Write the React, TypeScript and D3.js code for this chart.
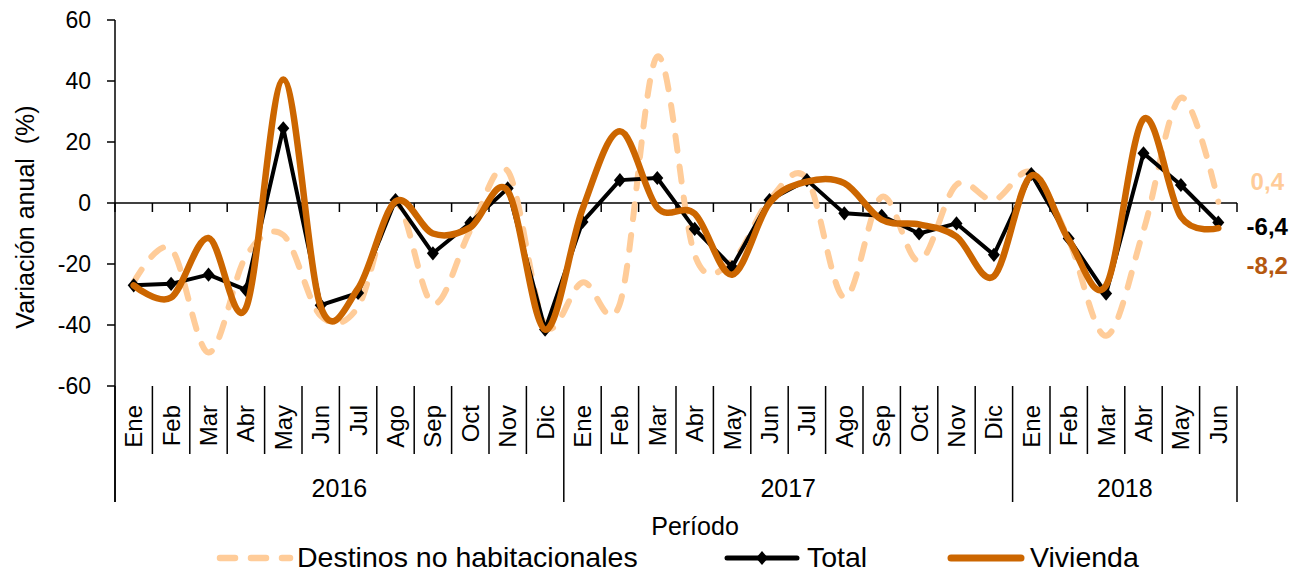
import React from "react";
import * as d3 from "d3";

const months = [
  "Ene","Feb","Mar","Abr","May","Jun","Jul","Ago","Sep","Oct","Nov","Dic",
  "Ene","Feb","Mar","Abr","May","Jun","Jul","Ago","Sep","Oct","Nov","Dic",
  "Ene","Feb","Mar","Abr","May","Jun",
];
const years = ["2016", "2017", "2018"];
const yearCounts = [12, 12, 6];
const yTicks = [-60, -40, -20, 0, 20, 40, 60];

const destinos = [
  -26, -15, -49, -17.5, -10.5, -37, -34, 0, -33, -9, 10.5, -40,
  -26, -33, 48, -17, -19, 1, 8, -31, 2, -19, 6, 1,
  10, -12, -43.5, -9, 34.5, 0.4,
];
const total = [
  -27, -26.5, -23.5, -28.5, 24.5, -33.5, -29.5, 1, -16.5, -6.5, 4.8, -41.5,
  -6.2, 7.5, 8.2, -8.5, -21, 1, 7.5, -3.4, -4.2, -10, -6.7, -17,
  9.5, -11.6, -29.7, 16.3, 5.9, -6.4,
];
const vivienda = [
  -27, -31, -11.5, -34.5, 40.5, -34, -28, 0.5, -10, -8, 4, -41.5,
  -2, 23.5, -1.5, -3.5, -23.5, 0, 7, 6.5, -5.5, -7, -11, -24,
  9, -12, -27, 27.5, -4.5, -8.2,
];
const endLabels = ["0,4", "-6,4", "-8,2"];
const legendNames = ["Destinos no habitacionales", "Total", "Vivienda"];
const yTitle = "Variación anual\u00A0\u00A0(%)";

const W = 1291;
const H = 574;
const FONT = "'Liberation Sans', Arial, Helvetica, sans-serif";
const PEACH = "#FFCC99";
const ORANGE = "#CC6600";
const BROWN = "#B5580F";

const diamond = {
  draw(ctx: any, size: number) {
    const h = Math.sqrt(size) * 0.62;
    const w = h * 0.85;
    ctx.moveTo(0, -h);
    ctx.lineTo(w, 0);
    ctx.lineTo(0, h);
    ctx.lineTo(-w, 0);
    ctx.closePath();
  },
};

export default function App() {
  const idx = months.map((_, i) => i);
  const x = d3.scaleBand<number>().domain(idx).range([115, 1237]).padding(0);
  const bw = x.bandwidth();
  const cx = (i: number) => (x(i) as number) + bw / 2;
  const y = d3.scaleLinear().domain([-60, 60]).range([386, 20]);

  const smooth = d3
    .line<number>()
    .x((_, i) => cx(i))
    .y((d) => y(d))
    .curve(d3.curveCardinal.tension(0));
  const straight = d3
    .line<number>()
    .x((_, i) => cx(i))
    .y((d) => y(d));

  const diamondPath = d3.symbol(diamond as any, 130)() as string;

  const boundaries = d3.range(months.length + 1).map((i) =>
    i < months.length ? (x(i) as number) : 1237
  );
  let acc = 0;
  const yearBounds = [0, ...yearCounts.map((c) => (acc += c))];

  const last = months.length - 1;
  const labelX = cx(last) + 49;

  return (
    <svg
      width={W}
      height={H}
      style={{ position: "absolute", left: 0, top: 0, background: "#fff" }}
      fontFamily={FONT}
    >
      {/* y axis */}
      <line x1={115} x2={115} y1={y(60)} y2={502} stroke="#000" strokeWidth={1.5} />
      {yTicks.map((t) => (
        <g key={t}>
          <line x1={107} x2={115} y1={y(t)} y2={y(t)} stroke="#000" strokeWidth={1.5} />
          <text x={91} y={y(t)} dy="0.35em" textAnchor="end" fontSize={23} fill="#000">
            {t}
          </text>
        </g>
      ))}
      <text
        transform={`translate(25,217) rotate(-90)`}
        dy="0.35em"
        textAnchor="middle"
        fontSize={25}
        fill="#000"
      >
        {yTitle}
      </text>

      {/* zero line with ticks */}
      <line x1={115} x2={1237} y1={y(0)} y2={y(0)} stroke="#000" strokeWidth={1.5} />
      {boundaries.map((b, i) => (
        <line key={"zt" + i} x1={b} x2={b} y1={y(0)} y2={y(0) + 9} stroke="#000" strokeWidth={1.5} />
      ))}

      {/* category separators */}
      {boundaries.map((b, i) => {
        const isYear = yearBounds.includes(i);
        return (
          <line
            key={"sep" + i}
            x1={b}
            x2={b}
            y1={386}
            y2={isYear ? 502 : 454}
            stroke="#000"
            strokeWidth={1.5}
          />
        );
      })}
      {months.map((m, i) => (
        <text
          key={"m" + i}
          transform={`translate(${cx(i)},405) rotate(-90)`}
          dy="0.35em"
          textAnchor="end"
          fontSize={24}
          fill="#000"
        >
          {m}
        </text>
      ))}
      {years.map((yr, k) => {
        const a = boundaries[yearBounds[k]];
        const b = boundaries[yearBounds[k + 1]];
        return (
          <text key={yr} x={(a + b) / 2} y={488} dy="0.35em" textAnchor="middle" fontSize={25} fill="#000">
            {yr}
          </text>
        );
      })}
      <text x={695} y={535} textAnchor="middle" fontSize={25} fill="#000">
        Período
      </text>

      {/* series */}
      <path
        d={smooth(destinos) as string}
        fill="none"
        stroke={PEACH}
        strokeWidth={6}
        strokeDasharray="15 16"
        strokeLinecap="round"
        strokeLinejoin="round"
      />
      <path d={straight(total) as string} fill="none" stroke="#000" strokeWidth={4} strokeLinejoin="round" />
      {total.map((v, i) => (
        <path key={"d" + i} d={diamondPath} transform={`translate(${cx(i)},${y(v)})`} fill="#000" />
      ))}
      <path
        d={smooth(vivienda) as string}
        fill="none"
        stroke={ORANGE}
        strokeWidth={6.5}
        strokeLinecap="round"
        strokeLinejoin="round"
      />

      {/* end labels */}
      <text x={labelX} y={y(destinos[last]) - 20} dy="0.35em" textAnchor="middle" fontSize={24} fontWeight="bold" fill={PEACH}>
        {endLabels[0]}
      </text>
      <text x={labelX} y={y(total[last]) + 4} dy="0.35em" textAnchor="middle" fontSize={24} fontWeight="bold" fill="#000">
        {endLabels[1]}
      </text>
      <text x={labelX} y={y(vivienda[last]) + 38} dy="0.35em" textAnchor="middle" fontSize={24} fontWeight="bold" fill={BROWN}>
        {endLabels[2]}
      </text>

      {/* legend */}
      <g>
        <line x1={220} x2={290} y1={558} y2={558} stroke={PEACH} strokeWidth={6.5} strokeDasharray="15 16" strokeLinecap="round" />
        <text x={297} y={567} fontSize={28.5} fill="#000">{legendNames[0]}</text>
        <line x1={727} x2={797} y1={558} y2={558} stroke="#000" strokeWidth={5} strokeLinecap="round" />
        <path d={diamondPath} transform="translate(762,558)" fill="#000" />
        <text x={807} y={567} fontSize={28.5} fill="#000">{legendNames[1]}</text>
        <line x1={951} x2={1021} y1={558} y2={558} stroke={ORANGE} strokeWidth={7} strokeLinecap="round" />
        <text x={1030} y={567} fontSize={28.5} fill="#000">{legendNames[2]}</text>
      </g>
    </svg>
  );
}
